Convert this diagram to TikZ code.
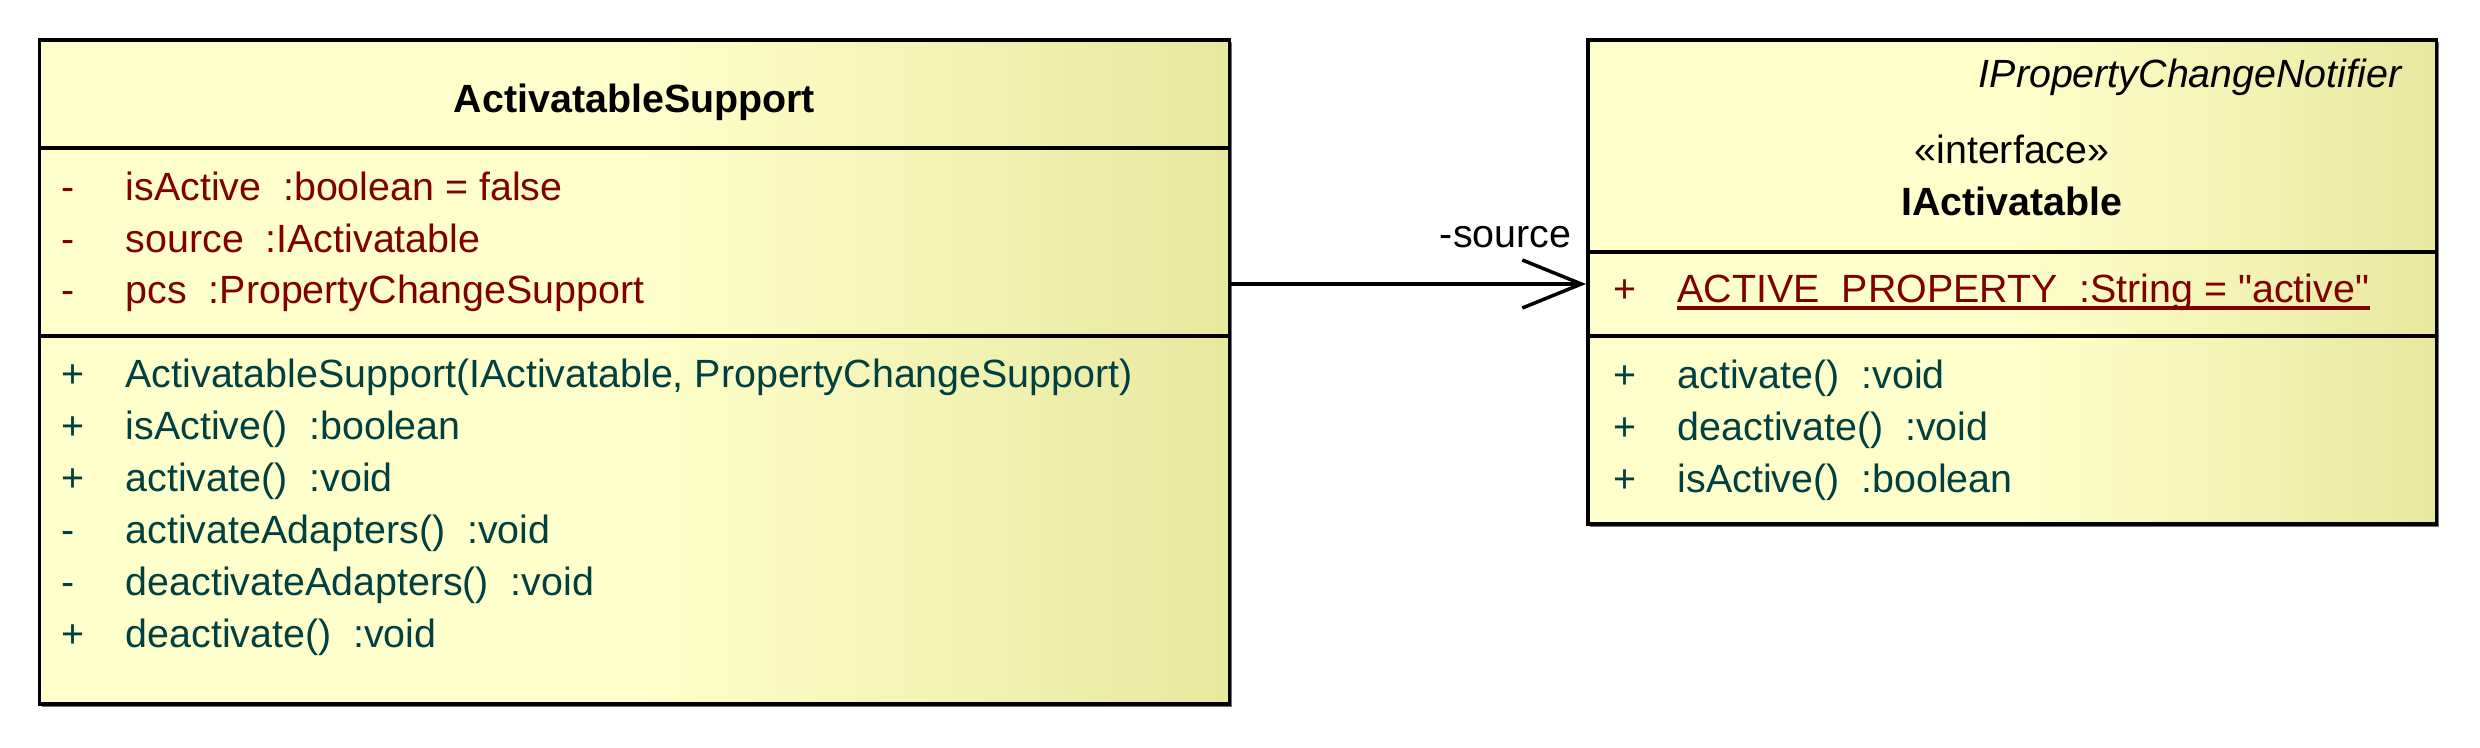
\documentclass[tikz,border=0pt]{standalone}
\usepackage{fontspec}
\setmainfont{Liberation Sans}[Ligatures=TeXOff]
\usepackage{tikz}
\usetikzlibrary{arrows.meta,positioning,shadows}

\begin{document}
\begin{tikzpicture}[x=0.01cm, y=-0.01cm]

% Define colors
\definecolor{classfill}{RGB}{255,255,204}
\definecolor{classedge}{RGB}{232,232,160}
\definecolor{attrcolor}{RGB}{128,0,0}
\definecolor{opcolor}{RGB}{0,64,64}

\tikzset{
    classbox/.style={draw, line width=1pt, rectangle, inner sep=0pt,
        left color=classfill, right color=classedge, middle color=classfill,
        drop shadow={shadow xshift=0.025cm, shadow yshift=-0.025cm, fill=black!55, opacity=1}},
    sepline/.style={line width=1pt},
    member/.style={anchor=base west, inner sep=0pt, font=\fontsize{11.2}{13}\selectfont},
    assoc/.style={line width=1pt, -{Straight Barb[length=0.59cm, width=0.48cm]}}
}

% Helper for class members
\newcommand{\umlrow}[6]{%
    % #1 = node name, #2 = x of sign, #3 = baseline, #4 = sign, #5 = text, #6 = color
    \node[member, text=#6] (#1sign) at (#2, #3) {#4};
    \node[member, text=#6] (#1) at (#2+64, #3) {#5};
}

\useasboundingbox (0,0) rectangle (2480,748);

% Class boxes
\node[classbox, minimum width=11.89cm, minimum height=6.64cm] (supp) at (634.5,372) {};
\node[classbox, minimum width=8.48cm, minimum height=4.84cm] (iact) at (2012,282) {};

\foreach \y in {148,336} {
    \draw[sepline] (supp.west |- 0,\y) -- (supp.east |- 0,\y);
}
\foreach \y in {252,336} {
    \draw[sepline] (iact.west |- 0,\y) -- (iact.east |- 0,\y);
}

% ActivatableSupport
\node[member, anchor=base, font=\fontsize{11.2}{13}\selectfont\bfseries] (suppname) at (634.5,112) {ActivatableSupport};
\umlrow{suppa}{61}{200}{-}{isActive~~:boolean = false}{attrcolor}
\umlrow{suppb}{61}{252}{-}{source~~:IActivatable}{attrcolor}
\umlrow{suppc}{61}{303}{-}{pcs~~:PropertyChangeSupport}{attrcolor}
\umlrow{suppd}{61}{387}{+}{ActivatableSupport(IActivatable, PropertyChangeSupport)}{opcolor}
\umlrow{suppe}{61}{439}{+}{isActive()~~:boolean}{opcolor}
\umlrow{suppf}{61}{491}{+}{activate()~~:void}{opcolor}
\umlrow{suppg}{61}{543}{-}{activateAdapters()~~:void}{opcolor}
\umlrow{supph}{61}{595}{-}{deactivateAdapters()~~:void}{opcolor}
\umlrow{suppi}{61}{647}{+}{deactivate()~~:void}{opcolor}

% IActivatable
\node[member, anchor=base east, font=\fontsize{11.2}{13}\selectfont\itshape] (iactpkg) at (2402,87) {IPropertyChangeNotifier};
\node[member, anchor=base] (iactstereo) at (2012,163) {«interface»};
\node[member, anchor=base, font=\fontsize{11.2}{13}\selectfont\bfseries] (iactname) at (2012,215) {IActivatable};
\umlrow{iacta}{1613}{302}{+}{ACTIVE\_PROPERTY~~:String = "active"}{attrcolor}
\draw[attrcolor, line width=0.9pt] ([yshift=-0.06cm]iacta.base west) -- ([yshift=-0.06cm]iacta.base east);
\umlrow{iactb}{1613}{388}{+}{activate()~~:void}{opcolor}
\umlrow{iactc}{1613}{440}{+}{deactivate()~~:void}{opcolor}
\umlrow{iactd}{1613}{492}{+}{isActive()~~:boolean}{opcolor}

% Association
\coordinate (arrowy) at (0,284);
\draw[assoc] (supp.east |- arrowy) -- (iact.west |- arrowy);
\node[member, anchor=base east] (srclabel) at (1572,247) {-source};

\end{tikzpicture}
\end{document}
